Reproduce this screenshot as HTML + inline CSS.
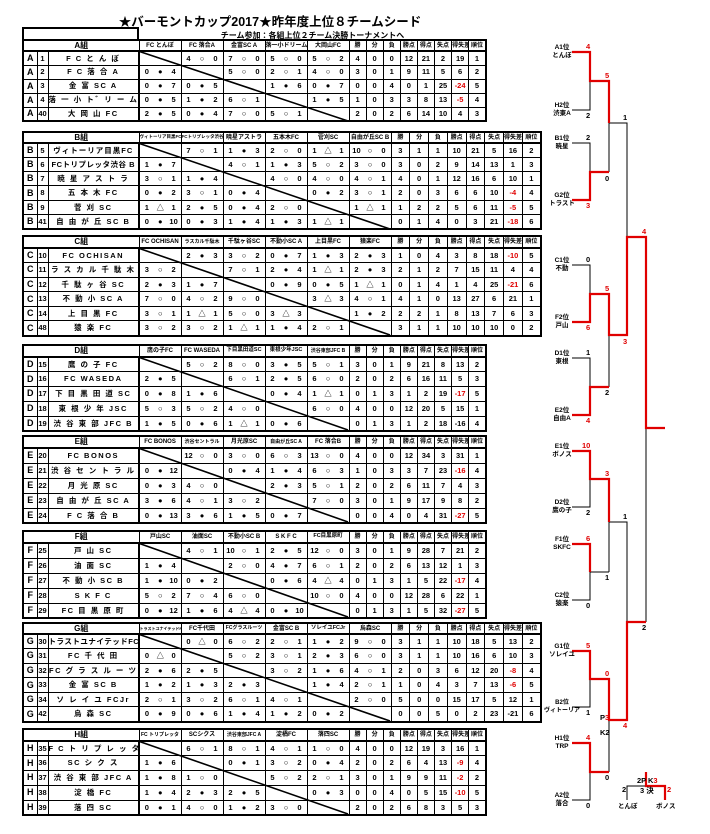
<!DOCTYPE html>
<html><head><meta charset="utf-8">
<style>
html,body{margin:0;padding:0;background:#fff;width:710px;height:834px;overflow:hidden;position:relative}
*{font-family:"Liberation Sans","Noto Sans CJK JP",sans-serif}
.t{position:absolute;left:22px;border-collapse:collapse;table-layout:fixed;border:2px solid #000;font-weight:bold;font-size:7.5px}
.t td{border:1px solid #000;padding:0;text-align:center;white-space:nowrap;overflow:hidden;line-height:1}
.t tr.h td{font-size:6px;border-bottom:2px solid #000}
.t tr.h td.g{font-size:8px}
.t td.l{font-size:9px;font-weight:900;border-right:1px dashed #000}
.t td.n{border-right:2px solid #000;font-size:7.5px;letter-spacing:1.5px}
.t i{display:inline-block;width:33%;font-style:normal;text-align:center}
.t td.s{font-size:7.5px}
.red{color:#e00000}
.title{position:absolute;left:0;width:540px;top:11px;text-align:center;font-weight:bold;font-size:12.5px}
.sub{position:absolute;left:140px;width:345px;top:30px;text-align:center;font-weight:bold;font-size:8px}
.box{position:absolute;left:22px;top:27px;width:113px;height:11px;border:2px solid #000;border-bottom:none}
.lab{position:absolute;width:40px;text-align:center;font-weight:bold;font-size:6.5px;line-height:8px;left:542px}
.sc{position:absolute;font-weight:bold;font-size:7.5px;line-height:8px}
</style></head><body>
<div class="title">★バーモントカップ2017★昨年度上位８チームシード</div>
<div class="sub">チーム参加：各組上位２チーム決勝トーナメントへ</div>
<div class="box"></div>

<!-- A -->
<table class="t" style="top:39px;width:463px">
<colgroup><col style="width:14px"><col style="width:11px"><col style="width:91px"><col span="5" style="width:42px"><col span="8" style="width:17.1px"></colgroup>
<tr class="h" style="height:11px"><td class="g" colspan="3">A組</td><td>FC とんぼ</td><td>FC 落合A</td><td>金富SC A</td><td>落一小ドリームス</td><td>大岡山FC</td><td>勝</td><td>分</td><td>負</td><td>勝点</td><td>得点</td><td>失点</td><td>得失差</td><td>順位</td></tr>
<tr style="height:14px"><td class="l">A</td><td>1</td><td class="n">F C と ん ぼ</td><td></td><td><i>4</i><i>○</i><i>0</i></td><td><i>7</i><i>○</i><i>0</i></td><td><i>5</i><i>○</i><i>0</i></td><td><i>5</i><i>○</i><i>2</i></td><td>4</td><td>0</td><td>0</td><td>12</td><td>21</td><td>2</td><td>19</td><td>1</td></tr>
<tr style="height:14px"><td class="l">A</td><td>2</td><td class="n">F C 落 合 A</td><td><i>0</i><i>●</i><i>4</i></td><td></td><td><i>5</i><i>○</i><i>0</i></td><td><i>2</i><i>○</i><i>1</i></td><td><i>4</i><i>○</i><i>0</i></td><td>3</td><td>0</td><td>1</td><td>9</td><td>11</td><td>5</td><td>6</td><td>2</td></tr>
<tr style="height:14px"><td class="l">A</td><td>3</td><td class="n">金 富 SC A</td><td><i>0</i><i>●</i><i>7</i></td><td><i>0</i><i>●</i><i>5</i></td><td></td><td><i>1</i><i>●</i><i>6</i></td><td><i>0</i><i>●</i><i>7</i></td><td>0</td><td>0</td><td>4</td><td>0</td><td>1</td><td>25</td><td class="red">-24</td><td>5</td></tr>
<tr style="height:14px"><td class="l">A</td><td>4</td><td class="n">落 一 小 ト゛リ ー ム ス</td><td><i>0</i><i>●</i><i>5</i></td><td><i>1</i><i>●</i><i>2</i></td><td><i>6</i><i>○</i><i>1</i></td><td></td><td><i>1</i><i>●</i><i>5</i></td><td>1</td><td>0</td><td>3</td><td>3</td><td>8</td><td>13</td><td class="red">-5</td><td>4</td></tr>
<tr style="height:14px"><td class="l">A</td><td>40</td><td class="n">大 岡 山 FC</td><td><i>2</i><i>●</i><i>5</i></td><td><i>0</i><i>●</i><i>4</i></td><td><i>7</i><i>○</i><i>0</i></td><td><i>5</i><i>○</i><i>1</i></td><td></td><td>2</td><td>0</td><td>2</td><td>6</td><td>14</td><td>10</td><td>4</td><td>3</td></tr>
</table>

<!-- B -->
<table class="t" style="top:131px;width:518px">
<colgroup><col style="width:14px"><col style="width:11px"><col style="width:91px"><col span="6" style="width:42px"><col span="8" style="width:18.75px"></colgroup>
<tr class="h" style="height:11px"><td class="g" colspan="3">B組</td><td style="font-size:4.5px">ヴィトーリア目黒FC</td><td style="font-size:4.5px">FCトリプレッタ渋谷B</td><td>暁星アストラ</td><td>五本木FC</td><td>菅刈SC</td><td>自由が丘SC B</td><td>勝</td><td>分</td><td>負</td><td>勝点</td><td>得点</td><td>失点</td><td>得失差</td><td>順位</td></tr>
<tr style="height:14.3px"><td class="l">B</td><td>5</td><td class="n" style="letter-spacing:1px">ヴィトーリア目黒FC</td><td></td><td><i>7</i><i>○</i><i>1</i></td><td><i>1</i><i>●</i><i>3</i></td><td><i>2</i><i>○</i><i>0</i></td><td><i>1</i><i>△</i><i>1</i></td><td><i>10</i><i>○</i><i>0</i></td><td>3</td><td>1</td><td>1</td><td>10</td><td>21</td><td>5</td><td>16</td><td>2</td></tr>
<tr style="height:14.3px"><td class="l">B</td><td>6</td><td class="n" style="letter-spacing:0.5px">FCトリプレッタ渋谷 B</td><td><i>1</i><i>●</i><i>7</i></td><td></td><td><i>4</i><i>○</i><i>1</i></td><td><i>1</i><i>●</i><i>3</i></td><td><i>5</i><i>○</i><i>2</i></td><td><i>3</i><i>○</i><i>0</i></td><td>3</td><td>0</td><td>2</td><td>9</td><td>14</td><td>13</td><td>1</td><td>3</td></tr>
<tr style="height:14.3px"><td class="l">B</td><td>7</td><td class="n">暁 星 ア ス ト ラ</td><td><i>3</i><i>○</i><i>1</i></td><td><i>1</i><i>●</i><i>4</i></td><td></td><td><i>4</i><i>○</i><i>0</i></td><td><i>4</i><i>○</i><i>0</i></td><td><i>4</i><i>○</i><i>1</i></td><td>4</td><td>0</td><td>1</td><td>12</td><td>16</td><td>6</td><td>10</td><td>1</td></tr>
<tr style="height:14.3px"><td class="l">B</td><td>8</td><td class="n">五 本 木 FC</td><td><i>0</i><i>●</i><i>2</i></td><td><i>3</i><i>○</i><i>1</i></td><td><i>0</i><i>●</i><i>4</i></td><td></td><td><i>0</i><i>●</i><i>2</i></td><td><i>3</i><i>○</i><i>1</i></td><td>2</td><td>0</td><td>3</td><td>6</td><td>6</td><td>10</td><td class="red">-4</td><td>4</td></tr>
<tr style="height:14.3px"><td class="l">B</td><td>9</td><td class="n">菅 刈 SC</td><td><i>1</i><i>△</i><i>1</i></td><td><i>2</i><i>●</i><i>5</i></td><td><i>0</i><i>●</i><i>4</i></td><td><i>2</i><i>○</i><i>0</i></td><td></td><td><i>1</i><i>△</i><i>1</i></td><td>1</td><td>2</td><td>2</td><td>5</td><td>6</td><td>11</td><td class="red">-5</td><td>5</td></tr>
<tr style="height:14.3px"><td class="l">B</td><td>41</td><td class="n">自 由 が 丘 SC B</td><td><i>0</i><i>●</i><i>10</i></td><td><i>0</i><i>●</i><i>3</i></td><td><i>1</i><i>●</i><i>4</i></td><td><i>1</i><i>●</i><i>3</i></td><td><i>1</i><i>△</i><i>1</i></td><td></td><td>0</td><td>1</td><td>4</td><td>0</td><td>3</td><td>21</td><td class="red">-18</td><td>6</td></tr>
</table>

<!-- C -->
<table class="t" style="top:235px;width:518px">
<colgroup><col style="width:14px"><col style="width:11px"><col style="width:91px"><col span="6" style="width:42px"><col span="8" style="width:18.75px"></colgroup>
<tr class="h" style="height:12px"><td class="g" colspan="3">C組</td><td>FC OCHISAN</td><td style="font-size:5px">ラスカル千駄木</td><td>千駄ヶ谷SC</td><td>不動小SC A</td><td>上目黒FC</td><td>猿楽FC</td><td>勝</td><td>分</td><td>負</td><td>勝点</td><td>得点</td><td>失点</td><td>得失差</td><td>順位</td></tr>
<tr style="height:14.6px"><td class="l">C</td><td>10</td><td class="n">FC OCHISAN</td><td></td><td><i>2</i><i>●</i><i>3</i></td><td><i>3</i><i>○</i><i>2</i></td><td><i>0</i><i>●</i><i>7</i></td><td><i>1</i><i>●</i><i>3</i></td><td><i>2</i><i>●</i><i>3</i></td><td>1</td><td>0</td><td>4</td><td>3</td><td>8</td><td>18</td><td class="red">-10</td><td>5</td></tr>
<tr style="height:14.6px"><td class="l">C</td><td>11</td><td class="n">ラ ス カ ル 千 駄 木</td><td><i>3</i><i>○</i><i>2</i></td><td></td><td><i>7</i><i>○</i><i>1</i></td><td><i>2</i><i>●</i><i>4</i></td><td><i>1</i><i>△</i><i>1</i></td><td><i>2</i><i>●</i><i>3</i></td><td>2</td><td>1</td><td>2</td><td>7</td><td>15</td><td>11</td><td>4</td><td>4</td></tr>
<tr style="height:14.6px"><td class="l">C</td><td>12</td><td class="n">千 駄 ヶ 谷 SC</td><td><i>2</i><i>●</i><i>3</i></td><td><i>1</i><i>●</i><i>7</i></td><td></td><td><i>0</i><i>●</i><i>9</i></td><td><i>0</i><i>●</i><i>5</i></td><td><i>1</i><i>△</i><i>1</i></td><td>0</td><td>1</td><td>4</td><td>1</td><td>4</td><td>25</td><td class="red">-21</td><td>6</td></tr>
<tr style="height:14.6px"><td class="l">C</td><td>13</td><td class="n">不 動 小 SC A</td><td><i>7</i><i>○</i><i>0</i></td><td><i>4</i><i>○</i><i>2</i></td><td><i>9</i><i>○</i><i>0</i></td><td></td><td><i>3</i><i>△</i><i>3</i></td><td><i>4</i><i>○</i><i>1</i></td><td>4</td><td>1</td><td>0</td><td>13</td><td>27</td><td>6</td><td>21</td><td>1</td></tr>
<tr style="height:14.6px"><td class="l">C</td><td>14</td><td class="n">上 目 黒 FC</td><td><i>3</i><i>○</i><i>1</i></td><td><i>1</i><i>△</i><i>1</i></td><td><i>5</i><i>○</i><i>0</i></td><td><i>3</i><i>△</i><i>3</i></td><td></td><td><i>1</i><i>●</i><i>2</i></td><td>2</td><td>2</td><td>1</td><td>8</td><td>13</td><td>7</td><td>6</td><td>3</td></tr>
<tr style="height:14.6px"><td class="l">C</td><td>48</td><td class="n">猿 楽 FC</td><td><i>3</i><i>○</i><i>2</i></td><td><i>3</i><i>○</i><i>2</i></td><td><i>1</i><i>△</i><i>1</i></td><td><i>1</i><i>●</i><i>4</i></td><td><i>2</i><i>○</i><i>1</i></td><td></td><td>3</td><td>1</td><td>1</td><td>10</td><td>10</td><td>10</td><td>0</td><td>2</td></tr>
</table>

<!-- D -->
<table class="t" style="top:344px;width:463px">
<colgroup><col style="width:14px"><col style="width:11px"><col style="width:91px"><col span="5" style="width:42px"><col span="8" style="width:17.1px"></colgroup>
<tr class="h" style="height:12px"><td class="g" colspan="3">D組</td><td>鷹の子FC</td><td>FC WASEDA</td><td style="font-size:5.5px">下目黒田道SC</td><td style="font-size:5.5px">東根少年JSC</td><td style="font-size:5px">渋谷東部JFC B</td><td>勝</td><td>分</td><td>負</td><td>勝点</td><td>得点</td><td>失点</td><td>得失差</td><td>順位</td></tr>
<tr style="height:14.8px"><td class="l">D</td><td>15</td><td class="n">鷹 の 子 FC</td><td></td><td><i>5</i><i>○</i><i>2</i></td><td><i>8</i><i>○</i><i>0</i></td><td><i>3</i><i>●</i><i>5</i></td><td><i>5</i><i>○</i><i>1</i></td><td>3</td><td>0</td><td>1</td><td>9</td><td>21</td><td>8</td><td>13</td><td>2</td></tr>
<tr style="height:14.8px"><td class="l">D</td><td>16</td><td class="n">FC WASEDA</td><td><i>2</i><i>●</i><i>5</i></td><td></td><td><i>6</i><i>○</i><i>1</i></td><td><i>2</i><i>●</i><i>5</i></td><td><i>6</i><i>○</i><i>0</i></td><td>2</td><td>0</td><td>2</td><td>6</td><td>16</td><td>11</td><td>5</td><td>3</td></tr>
<tr style="height:14.8px"><td class="l">D</td><td>17</td><td class="n">下 目 黒 田 道 SC</td><td><i>0</i><i>●</i><i>8</i></td><td><i>1</i><i>●</i><i>6</i></td><td></td><td><i>0</i><i>●</i><i>4</i></td><td><i>1</i><i>△</i><i>1</i></td><td>0</td><td>1</td><td>3</td><td>1</td><td>2</td><td>19</td><td class="red">-17</td><td>5</td></tr>
<tr style="height:14.8px"><td class="l">D</td><td>18</td><td class="n">東 根 少 年 JSC</td><td><i>5</i><i>○</i><i>3</i></td><td><i>5</i><i>○</i><i>2</i></td><td><i>4</i><i>○</i><i>0</i></td><td></td><td><i>6</i><i>○</i><i>0</i></td><td>4</td><td>0</td><td>0</td><td>12</td><td>20</td><td>5</td><td>15</td><td>1</td></tr>
<tr style="height:14.8px"><td class="l">D</td><td>19</td><td class="n">渋 谷 東 部 JFC B</td><td><i>1</i><i>●</i><i>5</i></td><td><i>0</i><i>●</i><i>6</i></td><td><i>1</i><i>△</i><i>1</i></td><td><i>0</i><i>●</i><i>6</i></td><td></td><td>0</td><td>1</td><td>3</td><td>1</td><td>2</td><td>18</td><td>-16</td><td>4</td></tr>
</table>

<!-- E -->
<table class="t" style="top:435px;width:463px">
<colgroup><col style="width:14px"><col style="width:11px"><col style="width:91px"><col span="5" style="width:42px"><col span="8" style="width:17.1px"></colgroup>
<tr class="h" style="height:12px"><td class="g" colspan="3">E組</td><td>FC BONOS</td><td style="font-size:5px">渋谷セントラル</td><td>月光原SC</td><td style="font-size:5px">自由が丘SC A</td><td>FC 落合B</td><td>勝</td><td>分</td><td>負</td><td>勝点</td><td>得点</td><td>失点</td><td>得失差</td><td>順位</td></tr>
<tr style="height:15px"><td class="l">E</td><td>20</td><td class="n">FC BONOS</td><td></td><td><i>12</i><i>○</i><i>0</i></td><td><i>3</i><i>○</i><i>0</i></td><td><i>6</i><i>○</i><i>3</i></td><td><i>13</i><i>○</i><i>0</i></td><td>4</td><td>0</td><td>0</td><td>12</td><td>34</td><td>3</td><td>31</td><td>1</td></tr>
<tr style="height:15px"><td class="l">E</td><td>21</td><td class="n">渋 谷 セ ン ト ラ ル</td><td><i>0</i><i>●</i><i>12</i></td><td></td><td><i>0</i><i>●</i><i>4</i></td><td><i>1</i><i>●</i><i>4</i></td><td><i>6</i><i>○</i><i>3</i></td><td>1</td><td>0</td><td>3</td><td>3</td><td>7</td><td>23</td><td class="red">-16</td><td>4</td></tr>
<tr style="height:15px"><td class="l">E</td><td>22</td><td class="n">月 光 原 SC</td><td><i>0</i><i>●</i><i>3</i></td><td><i>4</i><i>○</i><i>0</i></td><td></td><td><i>2</i><i>●</i><i>3</i></td><td><i>5</i><i>○</i><i>1</i></td><td>2</td><td>0</td><td>2</td><td>6</td><td>11</td><td>7</td><td>4</td><td>3</td></tr>
<tr style="height:15px"><td class="l">E</td><td>23</td><td class="n">自 由 が 丘 SC A</td><td><i>3</i><i>●</i><i>6</i></td><td><i>4</i><i>○</i><i>1</i></td><td><i>3</i><i>○</i><i>2</i></td><td></td><td><i>7</i><i>○</i><i>0</i></td><td>3</td><td>0</td><td>1</td><td>9</td><td>17</td><td>9</td><td>8</td><td>2</td></tr>
<tr style="height:15px"><td class="l">E</td><td>24</td><td class="n">F C 落 合 B</td><td><i>0</i><i>●</i><i>13</i></td><td><i>3</i><i>●</i><i>6</i></td><td><i>1</i><i>●</i><i>5</i></td><td><i>0</i><i>●</i><i>7</i></td><td></td><td>0</td><td>0</td><td>4</td><td>0</td><td>4</td><td>31</td><td class="red">-27</td><td>5</td></tr>
</table>

<!-- F -->
<table class="t" style="top:530px;width:463px">
<colgroup><col style="width:14px"><col style="width:11px"><col style="width:91px"><col span="5" style="width:42px"><col span="8" style="width:17.1px"></colgroup>
<tr class="h" style="height:12px"><td class="g" colspan="3">F組</td><td>戸山SC</td><td>油面SC</td><td>不動小SC B</td><td>S K F C</td><td style="font-size:5.5px">FC目黒原町</td><td>勝</td><td>分</td><td>負</td><td>勝点</td><td>得点</td><td>失点</td><td>得失差</td><td>順位</td></tr>
<tr style="height:15px"><td class="l">F</td><td>25</td><td class="n">戸 山 SC</td><td></td><td><i>4</i><i>○</i><i>1</i></td><td><i>10</i><i>○</i><i>1</i></td><td><i>2</i><i>●</i><i>5</i></td><td><i>12</i><i>○</i><i>0</i></td><td>3</td><td>0</td><td>1</td><td>9</td><td>28</td><td>7</td><td>21</td><td>2</td></tr>
<tr style="height:15px"><td class="l">F</td><td>26</td><td class="n">油 面 SC</td><td><i>1</i><i>●</i><i>4</i></td><td></td><td><i>2</i><i>○</i><i>0</i></td><td><i>4</i><i>●</i><i>7</i></td><td><i>6</i><i>○</i><i>1</i></td><td>2</td><td>0</td><td>2</td><td>6</td><td>13</td><td>12</td><td>1</td><td>3</td></tr>
<tr style="height:15px"><td class="l">F</td><td>27</td><td class="n">不 動 小 SC B</td><td><i>1</i><i>●</i><i>10</i></td><td><i>0</i><i>●</i><i>2</i></td><td></td><td><i>0</i><i>●</i><i>6</i></td><td><i>4</i><i>△</i><i>4</i></td><td>0</td><td>1</td><td>3</td><td>1</td><td>5</td><td>22</td><td class="red">-17</td><td>4</td></tr>
<tr style="height:15px"><td class="l">F</td><td>28</td><td class="n">S K F C</td><td><i>5</i><i>○</i><i>2</i></td><td><i>7</i><i>○</i><i>4</i></td><td><i>6</i><i>○</i><i>0</i></td><td></td><td><i>10</i><i>○</i><i>0</i></td><td>4</td><td>0</td><td>0</td><td>12</td><td>28</td><td>6</td><td>22</td><td>1</td></tr>
<tr style="height:15px"><td class="l">F</td><td>29</td><td class="n">FC 目 黒 原 町</td><td><i>0</i><i>●</i><i>12</i></td><td><i>1</i><i>●</i><i>6</i></td><td><i>4</i><i>△</i><i>4</i></td><td><i>0</i><i>●</i><i>10</i></td><td></td><td>0</td><td>1</td><td>3</td><td>1</td><td>5</td><td>32</td><td class="red">-27</td><td>5</td></tr>
</table>

<!-- G -->
<table class="t" style="top:622px;width:518px">
<colgroup><col style="width:14px"><col style="width:11px"><col style="width:91px"><col span="6" style="width:42px"><col span="8" style="width:18.75px"></colgroup>
<tr class="h" style="height:11px"><td class="g" colspan="3">G組</td><td style="font-size:4px">トラストユナイテッドFC</td><td>FC千代田</td><td style="font-size:5px">FCグラスルーツ</td><td>金富SC B</td><td style="font-size:5.5px">ソレイユFCJr</td><td>烏森SC</td><td>勝</td><td>分</td><td>負</td><td>勝点</td><td>得点</td><td>失点</td><td>得失差</td><td>順位</td></tr>
<tr style="height:14.6px"><td class="l">G</td><td>30</td><td class="n" style="letter-spacing:0.5px">トラストユナイテッドFC</td><td></td><td><i>0</i><i>△</i><i>0</i></td><td><i>6</i><i>○</i><i>2</i></td><td><i>2</i><i>○</i><i>1</i></td><td><i>1</i><i>●</i><i>2</i></td><td><i>9</i><i>○</i><i>0</i></td><td>3</td><td>1</td><td>1</td><td>10</td><td>18</td><td>5</td><td>13</td><td>2</td></tr>
<tr style="height:14.6px"><td class="l">G</td><td>31</td><td class="n">FC 千 代 田</td><td><i>0</i><i>△</i><i>0</i></td><td></td><td><i>5</i><i>○</i><i>2</i></td><td><i>3</i><i>○</i><i>1</i></td><td><i>2</i><i>●</i><i>3</i></td><td><i>6</i><i>○</i><i>0</i></td><td>3</td><td>1</td><td>1</td><td>10</td><td>16</td><td>6</td><td>10</td><td>3</td></tr>
<tr style="height:14.6px"><td class="l">G</td><td>32</td><td class="n">FC グ ラ ス ル ー ツ</td><td><i>2</i><i>●</i><i>6</i></td><td><i>2</i><i>●</i><i>5</i></td><td></td><td><i>3</i><i>○</i><i>2</i></td><td><i>1</i><i>●</i><i>6</i></td><td><i>4</i><i>○</i><i>1</i></td><td>2</td><td>0</td><td>3</td><td>6</td><td>12</td><td>20</td><td class="red">-8</td><td>4</td></tr>
<tr style="height:14.6px"><td class="l">G</td><td>33</td><td class="n">金 富 SC B</td><td><i>1</i><i>●</i><i>2</i></td><td><i>1</i><i>●</i><i>3</i></td><td><i>2</i><i>●</i><i>3</i></td><td></td><td><i>1</i><i>●</i><i>4</i></td><td><i>2</i><i>○</i><i>1</i></td><td>1</td><td>0</td><td>4</td><td>3</td><td>7</td><td>13</td><td class="red">-6</td><td>5</td></tr>
<tr style="height:14.6px"><td class="l">G</td><td>34</td><td class="n">ソ レ イ ユ FCJr</td><td><i>2</i><i>○</i><i>1</i></td><td><i>3</i><i>○</i><i>2</i></td><td><i>6</i><i>○</i><i>1</i></td><td><i>4</i><i>○</i><i>1</i></td><td></td><td><i>2</i><i>○</i><i>0</i></td><td>5</td><td>0</td><td>0</td><td>15</td><td>17</td><td>5</td><td>12</td><td>1</td></tr>
<tr style="height:14.6px"><td class="l">G</td><td>42</td><td class="n">烏 森 SC</td><td><i>0</i><i>●</i><i>9</i></td><td><i>0</i><i>●</i><i>6</i></td><td><i>1</i><i>●</i><i>4</i></td><td><i>1</i><i>●</i><i>2</i></td><td><i>0</i><i>●</i><i>2</i></td><td></td><td>0</td><td>0</td><td>5</td><td>0</td><td>2</td><td>23</td><td>-21</td><td>6</td></tr>
</table>

<!-- H -->
<table class="t" style="top:728px;width:463px">
<colgroup><col style="width:14px"><col style="width:11px"><col style="width:91px"><col span="5" style="width:42px"><col span="8" style="width:17.1px"></colgroup>
<tr class="h" style="height:12px"><td class="g" colspan="3">H組</td><td style="font-size:5px">FC トリプレッタ</td><td>SCシクス</td><td style="font-size:5px">渋谷東部JFC A</td><td>淀橋FC</td><td>落四SC</td><td>勝</td><td>分</td><td>負</td><td>勝点</td><td>得点</td><td>失点</td><td>得失差</td><td>順位</td></tr>
<tr style="height:14.8px"><td class="l">H</td><td>35</td><td class="n">F C ト リ プ レ ッ タ</td><td></td><td><i>6</i><i>○</i><i>1</i></td><td><i>8</i><i>○</i><i>1</i></td><td><i>4</i><i>○</i><i>1</i></td><td><i>1</i><i>○</i><i>0</i></td><td>4</td><td>0</td><td>0</td><td>12</td><td>19</td><td>3</td><td>16</td><td>1</td></tr>
<tr style="height:14.8px"><td class="l">H</td><td>36</td><td class="n">SC シ ク ス</td><td><i>1</i><i>●</i><i>6</i></td><td></td><td><i>0</i><i>●</i><i>1</i></td><td><i>3</i><i>○</i><i>2</i></td><td><i>0</i><i>●</i><i>4</i></td><td>2</td><td>0</td><td>2</td><td>6</td><td>4</td><td>13</td><td class="red">-9</td><td>4</td></tr>
<tr style="height:14.8px"><td class="l">H</td><td>37</td><td class="n">渋 谷 東 部 JFC A</td><td><i>1</i><i>●</i><i>8</i></td><td><i>1</i><i>○</i><i>0</i></td><td></td><td><i>5</i><i>○</i><i>2</i></td><td><i>2</i><i>○</i><i>1</i></td><td>3</td><td>0</td><td>1</td><td>9</td><td>9</td><td>11</td><td class="red">-2</td><td>2</td></tr>
<tr style="height:14.8px"><td class="l">H</td><td>38</td><td class="n">淀 橋 FC</td><td><i>1</i><i>●</i><i>4</i></td><td><i>2</i><i>●</i><i>3</i></td><td><i>2</i><i>●</i><i>5</i></td><td></td><td><i>0</i><i>●</i><i>3</i></td><td>0</td><td>0</td><td>4</td><td>0</td><td>5</td><td>15</td><td class="red">-10</td><td>5</td></tr>
<tr style="height:14.8px"><td class="l">H</td><td>39</td><td class="n">落 四 SC</td><td><i>0</i><i>●</i><i>1</i></td><td><i>4</i><i>○</i><i>0</i></td><td><i>1</i><i>●</i><i>2</i></td><td><i>3</i><i>○</i><i>0</i></td><td></td><td>2</td><td>0</td><td>2</td><td>6</td><td>8</td><td>3</td><td>5</td><td>3</td></tr>
</table>

<svg width="710" height="834" style="position:absolute;left:0;top:0" xmlns="http://www.w3.org/2000/svg">
<g stroke="#000" stroke-width="1.6">
<line x1="138" y1="51" x2="348" y2="121"/>
<line x1="138" y1="143" x2="390" y2="229"/>
<line x1="138" y1="248" x2="390" y2="335"/>
<line x1="138" y1="357" x2="348" y2="430"/>
<line x1="138" y1="448" x2="348" y2="522"/>
<line x1="138" y1="543" x2="348" y2="617"/>
<line x1="138" y1="634" x2="390" y2="721"/>
<line x1="138" y1="741" x2="348" y2="814"/>
</g>
<g fill="none" stroke="#000" stroke-width="1">
<polyline points="572,110 590,110 590,81"/>
<polyline points="572,143 590,143 590,172"/>
<polyline points="609,123 609,172"/>
<polyline points="609,123 627,123 627,237"/>
<polyline points="572,265 590,265 590,294"/>
<polyline points="572,358 590,358 590,387"/>
<polyline points="609,335 609,387"/>
<polyline points="572,507 590,507 590,479"/>
<polyline points="572,600 590,600 590,572 609,572"/>
<polyline points="609,522 609,572"/>
<polyline points="609,522 627,522 627,622"/>
<polyline points="646,428 646,622"/>
<polyline points="572,707 590,707 590,679"/>
<polyline points="572,800 590,800 590,772"/>
<polyline points="609,720 609,772"/>
<polyline points="627,800 627,786 646,786"/>
</g>
<g fill="none" stroke="#e00000" stroke-width="2.2">
<polyline points="572,52 590,52 590,81 609,81 609,123"/>
<polyline points="572,200 590,200 590,172 609,172"/>
<polyline points="572,322 590,322 590,294 609,294 609,335 627,335 627,237 646,237 646,428 665,428"/>
<polyline points="572,415 590,415 590,387 609,387"/>
<polyline points="572,451 590,451 590,479 609,479 609,522"/>
<polyline points="572,544 590,544 590,572"/>
<polyline points="572,651 590,651 590,679 609,679 609,720 627,720 627,622 646,622"/>
<polyline points="572,743 590,743 590,772 609,772"/>
<polyline points="646,772 646,786 665,786 665,800"/>
</g>
</svg>

<div class="lab" style="top:44px">A1位<br>とんぼ</div>
<div class="lab" style="top:102px">H2位<br>渋東A</div>
<div class="lab" style="top:135px">B1位<br>暁星</div>
<div class="lab" style="top:192px">G2位<br>トラスト</div>
<div class="lab" style="top:257px">C1位<br>不動</div>
<div class="lab" style="top:314px">F2位<br>戸山</div>
<div class="lab" style="top:350px">D1位<br>東根</div>
<div class="lab" style="top:407px">E2位<br>自由A</div>
<div class="lab" style="top:443px">E1位<br>ボノス</div>
<div class="lab" style="top:499px">D2位<br>鷹の子</div>
<div class="lab" style="top:536px">F1位<br>SKFC</div>
<div class="lab" style="top:592px">C2位<br>猿楽</div>
<div class="lab" style="top:643px">G1位<br>ソレイユ</div>
<div class="lab" style="top:699px;font-size:6px">B2位<br>ヴィトーリア</div>
<div class="lab" style="top:735px">H1位<br>TRP</div>
<div class="lab" style="top:792px">A2位<br>落合</div>

<div class="sc red" style="left:586px;top:43px">4</div>
<div class="sc" style="left:586px;top:112px">2</div>
<div class="sc red" style="left:605px;top:72px">5</div>
<div class="sc" style="left:586px;top:134px">2</div>
<div class="sc red" style="left:586px;top:202px">3</div>
<div class="sc" style="left:605px;top:175px">0</div>
<div class="sc" style="left:623px;top:114px">1</div>
<div class="sc" style="left:586px;top:256px">0</div>
<div class="sc red" style="left:586px;top:324px">6</div>
<div class="sc red" style="left:605px;top:285px">5</div>
<div class="sc" style="left:586px;top:349px">1</div>
<div class="sc red" style="left:586px;top:417px">4</div>
<div class="sc" style="left:605px;top:389px">2</div>
<div class="sc red" style="left:623px;top:338px">3</div>
<div class="sc red" style="left:642px;top:228px">4</div>
<div class="sc red" style="left:582px;top:442px">10</div>
<div class="sc" style="left:586px;top:509px">2</div>
<div class="sc red" style="left:605px;top:470px">3</div>
<div class="sc red" style="left:586px;top:535px">6</div>
<div class="sc" style="left:586px;top:602px">0</div>
<div class="sc" style="left:605px;top:574px">1</div>
<div class="sc" style="left:623px;top:513px">1</div>
<div class="sc" style="left:642px;top:624px">2</div>
<div class="sc red" style="left:586px;top:642px">5</div>
<div class="sc" style="left:586px;top:709px">1</div>
<div class="sc red" style="left:605px;top:670px">0</div>
<div class="sc" style="left:600px;top:714px">P<span class="red">3</span></div>
<div class="sc" style="left:600px;top:729px">K2</div>
<div class="sc red" style="left:623px;top:722px">4</div>
<div class="sc red" style="left:586px;top:734px">4</div>
<div class="sc" style="left:586px;top:802px">0</div>
<div class="sc" style="left:605px;top:774px">0</div>
<div class="sc" style="left:637px;top:777px">2P</div>
<div class="sc" style="left:648px;top:777px">K<span class="red">3</span></div>
<div class="sc" style="left:622px;top:786px">2</div>
<div class="sc" style="left:640px;top:787px">3 決</div>
<div class="sc red" style="left:667px;top:786px">2</div>
<div class="sc" style="left:618px;top:803px;font-size:6.5px">とんぼ</div>
<div class="sc" style="left:656px;top:803px;font-size:6.5px">ボノス</div>
</body></html>
